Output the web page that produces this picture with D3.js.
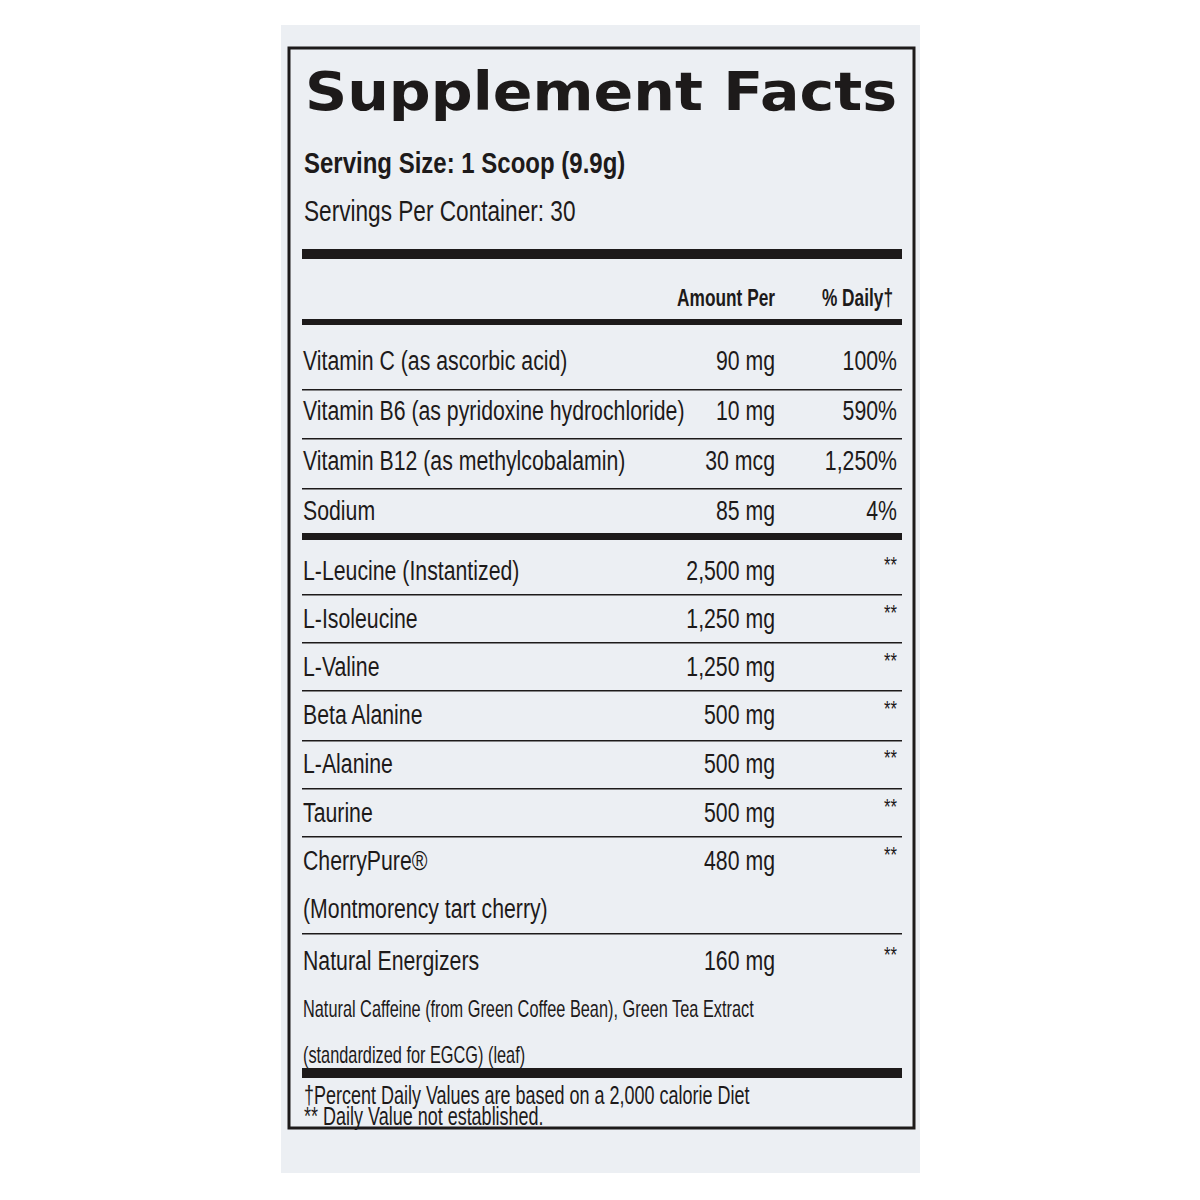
<!DOCTYPE html>
<html><head><meta charset="utf-8">
<script src="https://cdn.jsdelivr.net/npm/d3@7"></script>
<style>body{margin:0;background:#fff}</style></head>
<body><svg id="c" width="1200" height="1200"></svg>
<script>
const nutrients = ["Vitamin C (as ascorbic acid)","Vitamin B6 (as pyridoxine hydrochloride)","Vitamin B12 (as methylcobalamin)","Sodium","L-Leucine (Instantized)","L-Isoleucine","L-Valine","Beta Alanine","L-Alanine","Taurine","CherryPure®","Natural Energizers"];
const amounts = ["90 mg","10 mg","30 mcg","85 mg","2,500 mg","1,250 mg","1,250 mg","500 mg","500 mg","500 mg","480 mg","160 mg"];
const dailyValues = ["100%","590%","1,250%","4%","**","**","**","**","**","**","**","**"];
const subLines = {"CherryPure®":["(Montmorency tart cherry)"],"Natural Energizers":["Natural Caffeine (from Green Coffee Bean), Green Tea Extract","(standardized for EGCG) (leaf)"]};
const footnotes = ["†Percent Daily Values are based on a 2,000 calorie Diet","** Daily Value not established."];

const svg = d3.select("#c");
const ink = "#1d1a1a", F = "'Liberation Sans',Arial,sans-serif";
svg.append("rect").attr("x",281).attr("y",25).attr("width",639).attr("height",1148).attr("fill","#eceff3");
svg.append("rect").attr("x",289).attr("y",48).attr("width",625).attr("height",1080).attr("fill","none").attr("stroke",ink).attr("stroke-width",3);
const L=302,R=902;
function txt(x,y,s,size,opt={}){
  const sx=opt.sx||0.8;
  return svg.append("text").attr("transform",`translate(${x},${y}) scale(${sx},1)`)
    .attr("text-anchor",opt.anchor||"start").attr("font-family",F).attr("font-weight",opt.bold?700:400)
    .attr("font-size",size).attr("fill",ink).text(s);
}
svg.append("text").attr("x",305).attr("y",110).attr("font-family","'DejaVu Sans',sans-serif").attr("font-weight",900)
  .attr("font-size",54).attr("textLength",592).attr("lengthAdjust","spacingAndGlyphs").attr("fill",ink).text("Supplement Facts");
txt(304,173,"Serving Size: 1 Scoop (9.9g)",30,{bold:true,sx:0.8});
txt(304,221,"Servings Per Container: 30",29,{sx:0.78});
const rule=(y,h)=>svg.append("rect").attr("x",L).attr("y",y).attr("width",R-L).attr("height",h).attr("fill",ink);
rule(249,10);
txt(775,306,"Amount Per",24,{bold:true,sx:0.72,anchor:"end"});
txt(893,306,"% Daily†",24,{bold:true,sx:0.72,anchor:"end"});
rule(319,6);
const baselines=[370,420,470,520,580,628,676,724,773,822,870,970];
const sepAfter={0:389,1:438,2:488,4:594,5:642,6:690,7:740,8:788,9:836,10:933};
nutrients.forEach((n,i)=>{
  const y=baselines[i];
  txt(303,y,n,28,{sx:0.76});
  txt(775,y,amounts[i],28,{sx:0.76,anchor:"end"});
  const star=dailyValues[i]==="**";
  txt(897,star?y-8:y,dailyValues[i],star?22:28,{sx:0.76,anchor:"end"});
  (subLines[n]||[]).forEach((s,k)=>{
    const big=n==="CherryPure®";
    txt(303,big?918:1017+k*46,s,big?28:24,{sx:big?0.76:0.68});
  });
  if(sepAfter[i]!==undefined) rule(sepAfter[i],1.5);
});
rule(533,7);
rule(1068,10);
footnotes.forEach((t,i)=>txt(304,1104+i*21,t,25,{sx:0.72}));
</script></body></html>
